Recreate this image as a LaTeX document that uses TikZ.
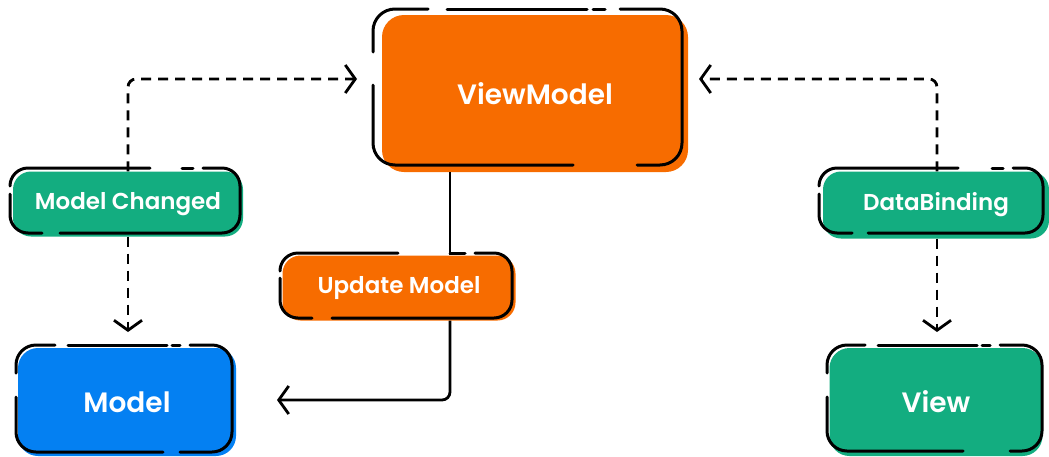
\documentclass[tikz,border=0pt]{standalone}
\usepackage{fontspec}
\setmainfont{Poppins}[UprightFont=* SemiBold, BoldFont=* Bold]
\usetikzlibrary{arrows.meta}
\definecolor{vmorange}{HTML}{F76C00}
\definecolor{mgreen}{HTML}{13AD80}
\definecolor{mblue}{HTML}{0480F2}
\begin{document}
\begin{tikzpicture}[x=1pt,y=-1pt,
  boxfill/.style={fill=#1, rounded corners=18pt, inner sep=0pt, text=white,
    font=\fontsize{23}{28}\selectfont, draw=none},
  bigtext/.style={font=\fontsize{28}{33}\selectfont},
  sketch/.style={line width=3pt, rounded corners=#1, line cap=round, black},
  link/.style={line width=2.8pt, dash pattern=on 10pt off 7pt, rounded corners=8pt,
    -{Straight Barb[length=10pt,width=28pt,line width=2.8pt]}},
  solidlink/.style={line width=2.8pt, rounded corners=8pt},
]
\useasboundingbox (0,0) rectangle (1049,456);

% filled boxes
\node[boxfill=vmorange, bigtext, rounded corners=22pt, minimum width=306pt, minimum height=157pt] (vm) at (535,93.5) {ViewModel};
\node[boxfill=mgreen, minimum width=230pt, minimum height=65pt] (mc) at (128,204) {Model Changed};
\node[boxfill=vmorange, minimum width=233pt, minimum height=65pt] (um) at (399,288) {Update Model};
\node[boxfill=mblue, bigtext, rounded corners=20pt, minimum width=218pt, minimum height=108pt] (m) at (127,402) {Model};
\node[boxfill=mgreen, minimum width=226pt, minimum height=67pt] (db) at (936,205) {DataBinding};
\node[boxfill=mgreen, bigtext, rounded corners=20pt, minimum width=213pt, minimum height=108pt] (v) at (936,402) {View};

% connector end points
\coordinate (tipL) at (357,79);
\coordinate (tipR) at (699,79);
\coordinate (tipMC) at (128,332);
\coordinate (tipDB) at (937,332);
\coordinate (tipUM) at (277,400);
\coordinate (trunk) at (450,0);

% connectors
\draw[link] (mc.north -| tipMC) |- (tipL);
\draw[link] (db.north -| tipDB) |- (tipR);
\draw[link] (mc.south -| tipMC) -- (tipMC);
\draw[link] (db.south -| tipDB) -- (tipDB);
\draw[solidlink] (vm.south -| trunk) -- (um.north -| trunk);
\draw[solidlink, -{Straight Barb[length=10pt,width=28pt,line width=2.8pt]}] (um.south -| trunk) |- (tipUM);

% sketchy outlines: ViewModel
\draw[sketch=22] (373,52) -- (373,9) -- (428,9);
\draw[sketch=22] (447,9) -- (587,9);
\draw[sketch=22] (593,9) -- (605,9);
\draw[sketch=22] (620,9) -- (682,9) -- (682,165) -- (637,165);
\draw[sketch=22] (573,165) -- (373,165) -- (373,85);
% Model Changed
\draw[sketch=18] (10,186) -- (10,168) -- (150,168);
\draw[sketch=18] (182,168) -- (193,168);
\draw[sketch=18] (203,168) -- (240,168) -- (240,233) -- (60,233);
\draw[sketch=18] (42,233) -- (10,233) -- (10,194);
% Update Model
\draw[sketch=18] (280,271) -- (280,253) -- (398,253);
\draw[sketch=18] (450,253) -- (465,253);
\draw[sketch=18] (475,253) -- (512,253) -- (512,318) -- (332,318);
\draw[sketch=18] (312,318) -- (280,318) -- (280,278);
% Model
\draw[sketch=20] (16,373) -- (16,345) -- (55,345);
\draw[sketch=20] (68,345) -- (167,345);
\draw[sketch=20] (172,345) -- (180,345);
\draw[sketch=20] (190,345) -- (232,345) -- (232,452) -- (180,452);
\draw[sketch=20] (163,452) -- (16,452) -- (16,397);
% DataBinding
\draw[sketch=18] (819,186) -- (819,168) -- (958,168);
\draw[sketch=18] (992,168) -- (1003,168);
\draw[sketch=18] (1013,168) -- (1043,168) -- (1043,233) -- (868,233);
\draw[sketch=18] (852,233) -- (819,233) -- (819,194);
% View
\draw[sketch=20] (827,373) -- (827,345) -- (865,345);
\draw[sketch=20] (878,345) -- (977,345);
\draw[sketch=20] (982,345) -- (990,345);
\draw[sketch=20] (1000,345) -- (1042,345) -- (1042,451) -- (1010,451);
\draw[sketch=20] (963,451) -- (827,451) -- (827,397);
\end{tikzpicture}
\end{document}
